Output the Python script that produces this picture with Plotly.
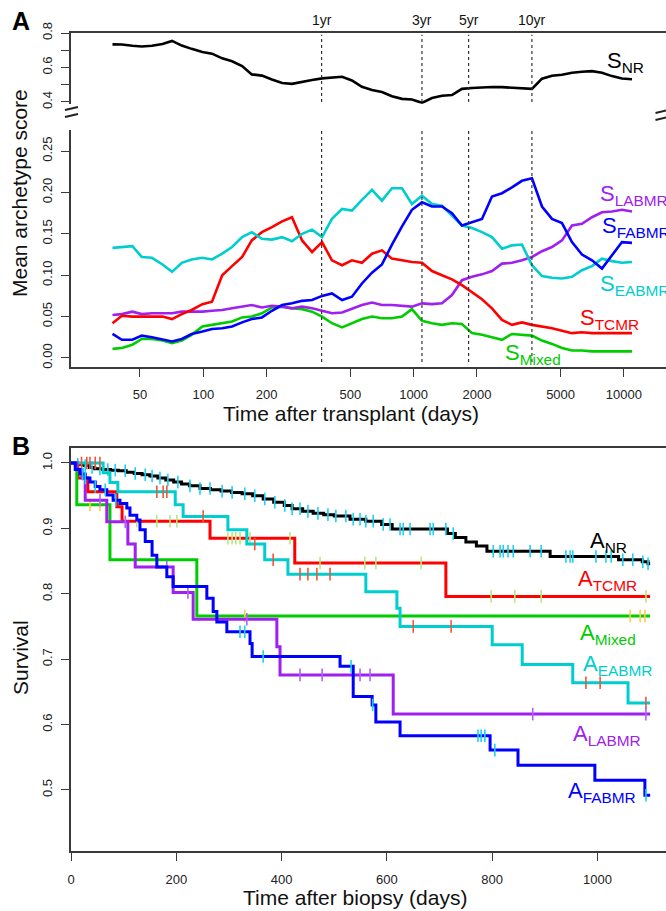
import numpy as np
import plotly.graph_objects as go

# ---------------- Panel A data (moving-average archetype scores) ----------------
days_a = [37, 41, 46, 51, 57, 64, 71, 79, 88, 99, 110, 123, 137, 153, 170, 190, 212, 237, 264, 295,
          329, 367, 409, 457, 509, 568, 634, 707, 789, 881, 982, 1096, 1223, 1364, 1522, 1698, 1895,
          2114, 2359, 2632, 2936, 3276, 3655, 4078, 4550, 5076, 5664, 6319, 7050, 7866, 8776, 9791, 10925]

s_nr = [0.734, 0.733, 0.726, 0.722, 0.726, 0.736, 0.754, 0.727, 0.708, 0.690, 0.680, 0.653, 0.636, 0.608,
        0.560, 0.553, 0.530, 0.510, 0.505, 0.518, 0.527, 0.537, 0.540, 0.546, 0.525, 0.488, 0.470, 0.458,
        0.433, 0.418, 0.414, 0.395, 0.423, 0.436, 0.440, 0.476, 0.481, 0.486, 0.487, 0.486, 0.483, 0.476,
        0.476, 0.535, 0.552, 0.558, 0.569, 0.575, 0.579, 0.570, 0.550, 0.536, 0.532]

s_tcmr = [0.042, 0.051, 0.050, 0.050, 0.050, 0.050, 0.047, 0.053, 0.058, 0.065, 0.068, 0.100, 0.111, 0.122,
          0.142, 0.152, 0.158, 0.165, 0.170, 0.142, 0.128, 0.140, 0.118, 0.112, 0.118, 0.115, 0.126, 0.130,
          0.120, 0.118, 0.116, 0.115, 0.105, 0.100, 0.095, 0.088, 0.080, 0.071, 0.060, 0.046, 0.040, 0.043,
          0.040, 0.038, 0.036, 0.033, 0.030, 0.031, 0.030, 0.030, 0.030, 0.030, 0.030]

s_eabmr = [0.133, 0.134, 0.135, 0.122, 0.121, 0.113, 0.104, 0.115, 0.119, 0.121, 0.119, 0.126, 0.134, 0.146,
           0.152, 0.144, 0.143, 0.146, 0.141, 0.150, 0.155, 0.146, 0.168, 0.180, 0.178, 0.191, 0.203, 0.190,
           0.205, 0.205, 0.186, 0.196, 0.186, 0.184, 0.172, 0.160, 0.157, 0.152, 0.146, 0.132, 0.136, 0.137,
           0.112, 0.099, 0.097, 0.096, 0.098, 0.106, 0.111, 0.120, 0.117, 0.115, 0.116]

s_labmr = [0.052, 0.053, 0.056, 0.053, 0.054, 0.054, 0.054, 0.056, 0.056, 0.056, 0.057, 0.058, 0.060, 0.062,
           0.064, 0.061, 0.063, 0.062, 0.060, 0.062, 0.060, 0.057, 0.054, 0.055, 0.059, 0.064, 0.067, 0.064,
           0.064, 0.063, 0.062, 0.066, 0.065, 0.066, 0.076, 0.094, 0.098, 0.101, 0.105, 0.114, 0.115, 0.118,
           0.122, 0.129, 0.134, 0.142, 0.160, 0.162, 0.170, 0.176, 0.177, 0.179, 0.177]

s_fabmr = [0.029, 0.022, 0.022, 0.027, 0.025, 0.022, 0.020, 0.023, 0.029, 0.032, 0.035, 0.036, 0.038, 0.043,
           0.047, 0.049, 0.057, 0.064, 0.066, 0.069, 0.070, 0.075, 0.078, 0.070, 0.074, 0.090, 0.103, 0.113,
           0.137, 0.159, 0.179, 0.188, 0.183, 0.183, 0.175, 0.160, 0.164, 0.168, 0.195, 0.199, 0.206, 0.214,
           0.217, 0.183, 0.168, 0.163, 0.140, 0.125, 0.118, 0.108, 0.124, 0.140, 0.139]

s_mixed = [0.011, 0.012, 0.016, 0.023, 0.023, 0.021, 0.018, 0.021, 0.028, 0.038, 0.040, 0.042, 0.044, 0.049,
           0.050, 0.054, 0.061, 0.062, 0.060, 0.059, 0.056, 0.050, 0.042, 0.037, 0.042, 0.047, 0.050, 0.048,
           0.048, 0.050, 0.059, 0.045, 0.042, 0.040, 0.042, 0.041, 0.030, 0.028, 0.025, 0.022, 0.029, 0.028,
           0.027, 0.021, 0.017, 0.012, 0.009, 0.009, 0.008, 0.008, 0.008, 0.008, 0.008]

year_days = [365.25, 1095.75, 1826.25, 3652.5]
year_labels = ["1yr", "3yr", "5yr", "10yr"]
a_xticks = [50, 100, 200, 500, 1000, 2000, 5000, 10000]

# ---------------- Panel B data (Kaplan-Meier survival) ----------------
nr_t = [0, 12, 25, 35, 45, 60, 75, 90, 105, 120, 135, 150, 165, 180, 195, 210, 225, 245, 265, 285,
        305, 325, 345, 365, 385, 405, 420, 440, 460, 480, 500, 530, 560, 590, 610, 715, 730, 750, 770,
        790, 910, 1040, 1085, 1096, 1100]
nr_s = [1.0, 0.998, 0.996, 0.993, 0.991, 0.990, 0.989, 0.988, 0.986, 0.984, 0.982, 0.980, 0.977, 0.974,
        0.971, 0.968, 0.965, 0.961, 0.959, 0.957, 0.955, 0.953, 0.950, 0.945, 0.940, 0.935, 0.930, 0.926,
        0.923, 0.921, 0.919, 0.914, 0.911, 0.906, 0.899, 0.892, 0.886, 0.879, 0.873, 0.865, 0.857, 0.852,
        0.849, 0.846, 0.846]
nr_cens = [13, 27, 40, 55, 70, 84, 103, 122, 141, 154, 169, 184, 203, 226, 245, 264, 287, 306, 330, 349,
           368, 387, 406, 420, 435, 450, 469, 488, 503, 522, 536, 549, 560, 574, 593, 606, 625, 631, 644,
           682, 688, 712, 726, 802, 815, 821, 830, 840, 872, 893, 940, 948, 953, 997, 1016, 1026, 1048,
           1067, 1086, 1096]

tc_t = [0, 13, 32, 87, 97, 264, 425, 712, 1100]
tc_s = [1.0, 0.977, 0.956, 0.933, 0.911, 0.885, 0.847, 0.796, 0.796]
tc_cens = [125, 163, 188, 201, 298, 306, 313, 321, 340, 416, 473, 558, 579, 665, 798, 843, 893, 1092]

mx_t = [0, 11, 74, 239, 1100]
mx_s = [1.0, 0.936, 0.852, 0.766, 0.766]
mx_cens = [36, 55, 330, 1062, 1081, 1090]

ea_t = [0, 61, 74, 89, 198, 213, 298, 334, 368, 412, 560, 619, 625, 800, 857, 953, 1058, 1100]
ea_s = [1.0, 0.985, 0.970, 0.956, 0.936, 0.918, 0.898, 0.876, 0.852, 0.830, 0.803, 0.778, 0.750, 0.722,
        0.692, 0.664, 0.633, 0.633]
ea_cens = [20, 30, 36, 46, 55, 163, 175, 182, 251, 349, 384, 435, 450, 467, 492, 650, 722, 978, 1005, 1092]

la_t = [0, 11, 21, 27, 68, 108, 122, 194, 232, 391, 397, 612, 1100]
la_s = [1.0, 0.990, 0.977, 0.943, 0.910, 0.876, 0.841, 0.802, 0.761, 0.719, 0.676, 0.616, 0.616]
la_cens = [55, 103, 182, 222, 334, 435, 477, 549, 568, 877, 1092]

fa_t = [0, 8, 17, 27, 36, 46, 55, 68, 80, 93, 106, 112, 125, 131, 141, 154, 163, 182, 194, 258, 270, 277,
        296, 340, 344, 511, 536, 572, 579, 625, 796, 849, 995, 1090, 1100]
fa_s = [1.0, 0.990, 0.983, 0.977, 0.971, 0.964, 0.959, 0.951, 0.943, 0.938, 0.931, 0.920, 0.913, 0.898,
        0.880, 0.859, 0.841, 0.826, 0.811, 0.793, 0.773, 0.757, 0.742, 0.724, 0.704, 0.689, 0.643, 0.630,
        0.604, 0.583, 0.561, 0.538, 0.515, 0.492, 0.492]
fa_cens = [22, 27, 46, 65, 85, 321, 330, 365, 532, 573, 773, 779, 786, 805, 1092]

b_xticks = [0, 200, 400, 600, 800, 1000]

# ---------------- styling ----------------
BLACK, RED, GREEN, CYAN, BLUE, PURPLE = "#000000", "#FF0000", "#00CD00", "#00CDCD", "#0000FF", "#A020F0"
FONT = "Liberation Sans, Arial, Helvetica, sans-serif"
AX = "#3a3a3a"
W, H, L = 666, 911, 71
PW = W - L


def px_x(px):
    return (px - L) / PW


def px_y(py):
    return 1 - py / H


def km_at(t, s, times):
    idx = np.searchsorted(np.array(t), np.array(times), side="right") - 1
    return [s[i] for i in idx]


fig = go.Figure()

# Panel A top: NR
fig.add_trace(go.Scatter(x=days_a, y=s_nr, mode="lines", line=dict(color=BLACK, width=2.6),
                         xaxis="x2", yaxis="y", hoverinfo="skip"))
# Panel A bottom
for vals, col in [(s_mixed, GREEN), (s_labmr, PURPLE), (s_tcmr, RED), (s_eabmr, CYAN), (s_fabmr, BLUE)]:
    fig.add_trace(go.Scatter(x=days_a, y=vals, mode="lines", line=dict(color=col, width=2.6),
                             xaxis="x", yaxis="y2", hoverinfo="skip"))

# dotted year lines
for d in year_days:
    fig.add_trace(go.Scatter(x=[d, d], y=[0.4, 0.79], mode="lines",
                             line=dict(color="#333", width=1.2, dash="dot"),
                             xaxis="x2", yaxis="y", hoverinfo="skip"))
    fig.add_trace(go.Scatter(x=[d, d], y=[-0.005, 0.279], mode="lines",
                             line=dict(color="#333", width=1.2, dash="dot"),
                             xaxis="x", yaxis="y2", hoverinfo="skip", cliponaxis=False))

# Panel B: KM curves
for t, s, cens, col in [(nr_t, nr_s, nr_cens, BLACK), (tc_t, tc_s, tc_cens, RED),
                        (mx_t, mx_s, mx_cens, GREEN), (ea_t, ea_s, ea_cens, CYAN),
                        (la_t, la_s, la_cens, PURPLE), (fa_t, fa_s, fa_cens, BLUE)]:
    fig.add_trace(go.Scatter(x=t, y=s, mode="lines", line=dict(color=col, width=3, shape="hv"),
                             xaxis="x3", yaxis="y3", hoverinfo="skip"))
    fig.add_trace(go.Scatter(x=cens, y=km_at(t, s, cens), mode="markers",
                             marker=dict(symbol="line-ns-open", size=9, line=dict(color=col, width=1.6)),
                             xaxis="x3", yaxis="y3", hoverinfo="skip"))

axis_common = dict(showline=True, linecolor=AX, linewidth=1.6, showgrid=False, zeroline=False,
                   ticks="outside", ticklen=8, tickwidth=1.4, tickcolor=AX, automargin=False,
                   tickfont=dict(family=FONT, size=13, color="#222"))

fig.update_layout(
    width=W, height=H, autosize=False, margin=dict(l=L, r=0, t=0, b=0),
    paper_bgcolor="white", plot_bgcolor="white", showlegend=False,
    font=dict(family=FONT, color="#000"),
    xaxis=dict(**axis_common, type="log", range=[1.3709, 4.2002], domain=[0, 1], anchor="y2",
               tickvals=a_xticks, ticktext=[str(v) for v in a_xticks], ticklabelstandoff=7),
    xaxis2=dict(type="log", range=[1.3709, 4.2002], domain=[0, 1], anchor="y", matches="x", side="top",
                showline=True, linecolor=AX, linewidth=1.6, showgrid=False, zeroline=False,
                ticks="", showticklabels=False),
    yaxis=dict(**axis_common, range=[0.39, 0.8], domain=[px_y(103.7), px_y(33)], anchor="x2",
               tickvals=[0.4, 0.5, 0.6, 0.7, 0.8], ticktext=["0.4", "", "0.6", "", "0.8"],
               tickangle=-90, ticklabelstandoff=4),
    yaxis2=dict(**axis_common, range=[-0.0109, 0.2754], domain=[px_y(367), px_y(130)], anchor="x",
                tickvals=[0, 0.05, 0.10, 0.15, 0.20, 0.25],
                ticktext=["0.00", "0.05", "0.10", "0.15", "0.20", "0.25"],
                tickangle=-90, ticklabelstandoff=4),
    xaxis3=dict(**axis_common, range=[0, 1130.1], domain=[0, 1], anchor="y3", mirror=True,
                tickvals=b_xticks, ticktext=[str(v) for v in b_xticks], ticklabelstandoff=8),
    yaxis3=dict(**axis_common, range=[0.4067, 1.0229], domain=[px_y(851), px_y(448)], anchor="x3",
                tickvals=[0.5, 0.6, 0.7, 0.8, 0.9, 1.0],
                ticktext=["0.5", "0.6", "0.7", "0.8", "0.9", "1.0"],
                tickangle=-90, ticklabelstandoff=4),
)

ann = []
# year labels
for d, lab in zip(year_days, year_labels):
    ann.append(dict(x=np.log10(d), xref="x2", y=px_y(20), yref="paper", text=lab, showarrow=False,
                    font=dict(family=FONT, size=14, color="#111"), xanchor="center", yanchor="middle"))

# series labels
series_labels = [
    ("S<sub>NR</sub>", BLACK, 605, 62), ("S<sub>LABMR</sub>", PURPLE, 598, 195),
    ("S<sub>FABMR</sub>", BLUE, 600, 227), ("S<sub>EABMR</sub>", CYAN, 598, 285),
    ("S<sub>TCMR</sub>", RED, 578, 319), ("S<sub>Mixed</sub>", GREEN, 503, 354),
    ("A<sub>NR</sub>", BLACK, 588, 542), ("A<sub>TCMR</sub>", RED, 576, 580),
    ("A<sub>Mixed</sub>", GREEN, 578, 634), ("A<sub>EABMR</sub>", CYAN, 581, 665),
    ("A<sub>LABMR</sub>", PURPLE, 571, 735), ("A<sub>FABMR</sub>", BLUE, 566, 792),
]
for txt, col, lx, cy in series_labels:
    ann.append(dict(x=px_x(lx), xref="paper", y=px_y(cy), yref="paper", text=txt, showarrow=False,
                    font=dict(family=FONT, size=22, color=col), xanchor="left", yanchor="middle"))

# axis titles and panel letters (explicitly centred)
titles = [
    ("Mean archetype score", 20, 193, -90, 21, False),
    ("Time after transplant (days)", 351, 413, 0, 21, False),
    ("Survival", 20, 658, -90, 21, False),
    ("Time after biopsy (days)", 355, 897, 0, 21, False),
    ("A", 21, 21, 0, 25, True),
    ("B", 21, 446, 0, 25, True),
]
for txt, cx, cy, ang, size, bold in titles:
    ann.append(dict(x=px_x(cx), xref="paper", y=px_y(cy), yref="paper",
                    text=f"<b>{txt}</b>" if bold else txt, textangle=ang, showarrow=False,
                    xanchor="center", yanchor="middle",
                    font=dict(family=FONT, size=size, color="#000" if bold else "#111")))
fig.update_layout(annotations=ann)

# axis break marks
shapes = []
for cx, dy in [(71.5, 0), (662, 3)]:
    for off in (0, 7):
        shapes.append(dict(type="line", xref="paper", yref="paper",
                           x0=px_x(cx - 6.5), y0=px_y(110 + off + dy), x1=px_x(cx + 6.5), y1=px_y(107 + off + dy),
                           line=dict(color="#222", width=2)))
fig.update_layout(shapes=shapes)

fig.write_html("out.html", config={"responsive": False, "displayModeBar": False})

# remove default page margins so the figure sits at the window's top-left corner
with open("out.html", "r", encoding="utf-8") as f:
    html = f.read()
html = html.replace("<head>", "<head><style>html,body{margin:0;padding:0;overflow:hidden;}</style>", 1)
with open("out.html", "w", encoding="utf-8") as f:
    f.write(html)
